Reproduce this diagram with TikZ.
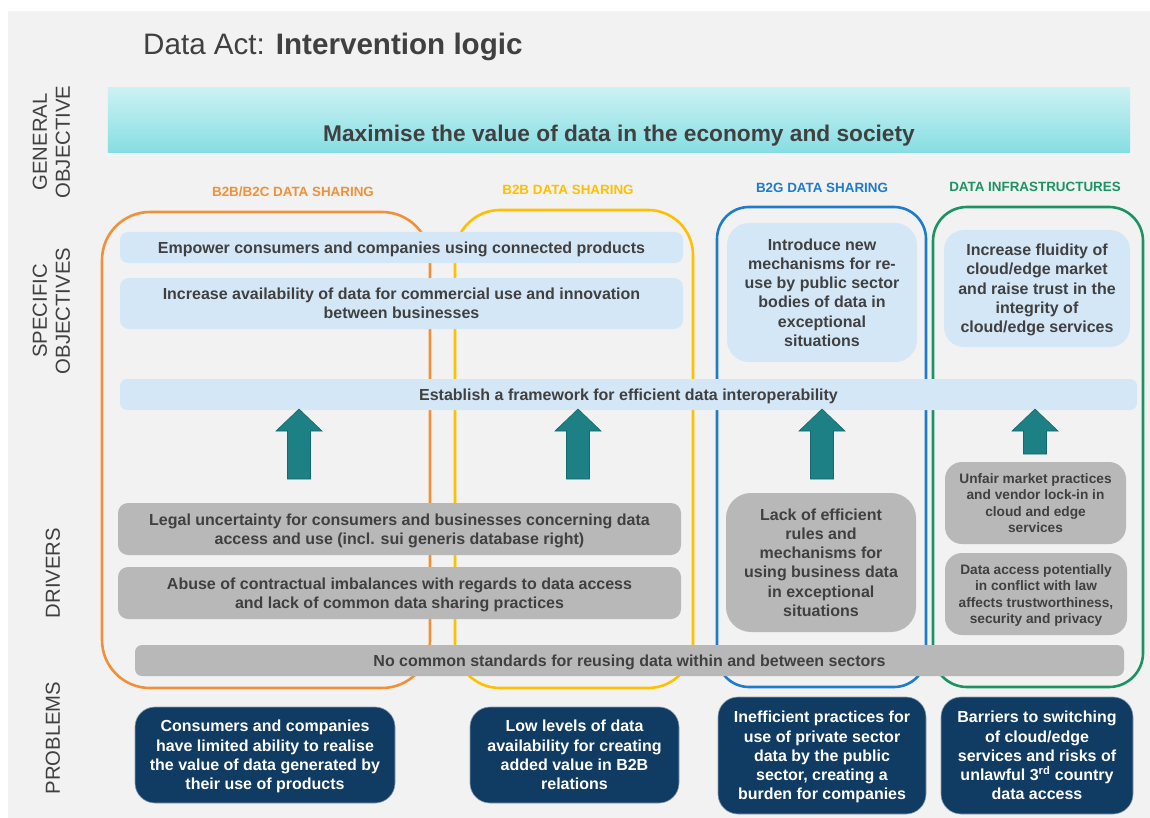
\documentclass[tikz,border=0pt]{standalone}
\usepackage{fontspec}
\setmainfont{Liberation Sans}
\definecolor{bg}{HTML}{F2F2F2}
\definecolor{txt}{HTML}{404040}
\definecolor{lblue}{HTML}{D4E7F7}
\definecolor{gbox}{HTML}{B8B8B8}
\definecolor{dblue}{HTML}{103C63}
\definecolor{dline}{HTML}{8A9BB0}
\definecolor{teal}{HTML}{1C8085}
\definecolor{tealline}{HTML}{16686C}
\definecolor{corange}{HTML}{F0913A}
\definecolor{cyellow}{HTML}{FFC000}
\definecolor{cblue}{HTML}{1F7BCB}
\definecolor{cgreen}{HTML}{1C9363}
\definecolor{cyanTop}{HTML}{F0FBFC}
\definecolor{cyanA}{HTML}{7FDCE1}
\definecolor{cyanB}{HTML}{A8E8EB}
\pgfdeclareverticalshading{bannershade}{100bp}{color(0bp)=(cyanB); color(10bp)=(cyanA); color(20bp)=(cyanA); color(100bp)=(cyanTop)}
\newcommand\tealup[3]{%
  \filldraw[fill=teal, draw=tealline, line width=0.6pt] (#1,#2) -- (#1+23,#2+22) -- (#1+11.5,#2+22) -- (#1+11.5,#3) -- (#1-11.5,#3) -- (#1-11.5,#2+22) -- (#1-23,#2+22) -- cycle;}
\begin{document}
\begin{tikzpicture}[x=1pt,y=-1pt,
  mainfont/.style={font=\bfseries\fontsize{16}{19.3}\selectfont},
  smallfont/.style={font=\bfseries\fontsize{13.7}{16.6}\selectfont},
  lbox/.style={fill=lblue, text=txt, align=center, inner sep=0pt, text depth=0pt, mainfont},
  gbox/.style={fill=gbox, text=txt, align=center, inner sep=0pt, text depth=0pt, mainfont},
  dbox/.style={fill=dblue, draw=dline, line width=0.6pt, text=white, align=center, inner sep=0pt, text depth=0pt, rounded corners=20pt, mainfont},
  frame/.style={draw=#1, line width=2.6pt, inner sep=0pt},
  header/.style={text=#1, font=\bfseries\fontsize{13.4}{16}\selectfont, inner sep=0pt},
  rowlabel/.style={rotate=90, text=txt, align=center, inner sep=0pt, font=\fontsize{20.3}{23}\selectfont}
]
\useasboundingbox (0,0) rectangle (1150,818);
\fill[white] (0,0) rectangle (1150,818);
\fill[bg] (8,11) rectangle (1150,818);

% title
\node[anchor=base west, text=txt, inner sep=0pt, font=\fontsize{29.6}{36}\selectfont] (title) at (143,55) {Data Act: \textbf{Intervention logic}};

% banner
\node[minimum width=1022pt, minimum height=64pt, inner sep=0pt] (banner) at (619,120) {};
\shade[shading=bannershade] (banner.north west) rectangle (banner.south east);
\node[anchor=base, text=txt, inner sep=0pt, font=\bfseries\fontsize{22.7}{27}\selectfont] (bannertext) at (619,142) {Maximise the value of data in the economy and society};

% row labels
\node[rowlabel] (lgen) at (51.5,142) {GENERAL\\OBJECTIVE};
\node[rowlabel] (lspec) at (51.5,311) {SPECIFIC\\OBJECTIVES};
\node[rowlabel] (ldrv) at (53,573) {DRIVERS};
\node[rowlabel] (lprob) at (53,738) {PROBLEMS};

% headers
\node[header=corange] (h1) at (293,192) {B2B/B2C DATA SHARING};
\node[header=cyellow] (h2) at (568,190) {B2B DATA SHARING};
\node[header=cblue] (h3) at (822,188) {B2G DATA SHARING};
\node[header=cgreen] (h4) at (1035,187) {DATA INFRASTRUCTURES};

% frames
\node[frame=corange, rounded corners=48pt, minimum width=328pt, minimum height=476pt] (f1) at (266,450) {};
\node[frame=cyellow, rounded corners=45pt, minimum width=238pt, minimum height=478pt] (f2) at (574,449) {};
\node[frame=cblue, rounded corners=32pt, minimum width=209pt, minimum height=480pt] (f3) at (821.5,447) {};
\node[frame=cgreen, rounded corners=34pt, minimum width=210pt, minimum height=480pt] (f4) at (1038,447) {};

% specific objectives
\node[lbox, rounded corners=8pt, minimum width=563pt, minimum height=31pt] (o1) at (401.5,247.5) {Empower consumers and companies using connected products};
\node[lbox, rounded corners=9pt, minimum width=563pt, minimum height=51pt] (o2) at (401.5,303.5) {Increase availability of data for commercial use and innovation\\between businesses};
\node[lbox, rounded corners=22pt, minimum width=190pt, minimum height=139pt] (o3) at (822,292.5) {Introduce new\\mechanisms for re-\\use by public sector\\bodies of data in\\exceptional\\situations};
\node[lbox, rounded corners=20pt, minimum width=186pt, minimum height=117pt] (o4) at (1037,288.5) {Increase fluidity of\\cloud/edge market\\and raise trust in the\\integrity of\\cloud/edge services};
\node[lbox, rounded corners=7pt, minimum width=1017pt, minimum height=31pt] (o5) at (628.5,394.5) {Establish a framework for efficient data interoperability};

% arrows
\tealup{299}{409}{479}
\tealup{578}{409}{479}
\tealup{822}{409}{479}
\tealup{1035}{409}{454}

% drivers
\node[gbox, rounded corners=10pt, minimum width=563pt, minimum height=52pt] (d1) at (399.5,529) {Legal uncertainty for consumers and businesses concerning data\\access and use (incl. sui generis database right)};
\node[gbox, rounded corners=10pt, minimum width=563pt, minimum height=52pt] (d2) at (399.5,593) {Abuse of contractual imbalances with regards to data access\\and lack of common data sharing practices};
\node[gbox, rounded corners=25pt, minimum width=190pt, minimum height=139pt] (d3) at (821,562.5) {Lack of efficient\\rules and\\mechanisms for\\using business data\\in exceptional\\situations};
\node[gbox, smallfont, rounded corners=17pt, minimum width=181pt, minimum height=82pt] (d4) at (1035.5,503) {Unfair market practices\\and vendor lock-in in\\cloud and edge\\services};
\node[gbox, smallfont, rounded corners=17pt, minimum width=182pt, minimum height=82pt] (d5) at (1036,594) {Data access potentially\\in conflict with law\\affects trustworthiness,\\security and privacy};
\node[gbox, rounded corners=7pt, minimum width=989pt, minimum height=31pt] (d6) at (629.5,660.5) {No common standards for reusing data within and between sectors};

% problems
\node[dbox, minimum width=260pt, minimum height=96pt] (p1) at (265,755) {Consumers and companies\\have limited ability to realise\\the value of data generated by\\their use of products};
\node[dbox, minimum width=209pt, minimum height=96pt] (p2) at (574.5,755) {Low levels of data\\availability for creating\\added value in B2B\\relations};
\node[dbox, minimum width=208pt, minimum height=117pt] (p3) at (822,755.5) {Inefficient practices for\\use of private sector\\data by the public\\sector, creating a\\burden for companies};
\node[dbox, minimum width=192pt, minimum height=117pt] (p4) at (1037,755.5) {Barriers to switching\\of cloud/edge\\services and risks of\\unlawful 3\textsuperscript{rd} country\\data access};
\end{tikzpicture}
\end{document}
